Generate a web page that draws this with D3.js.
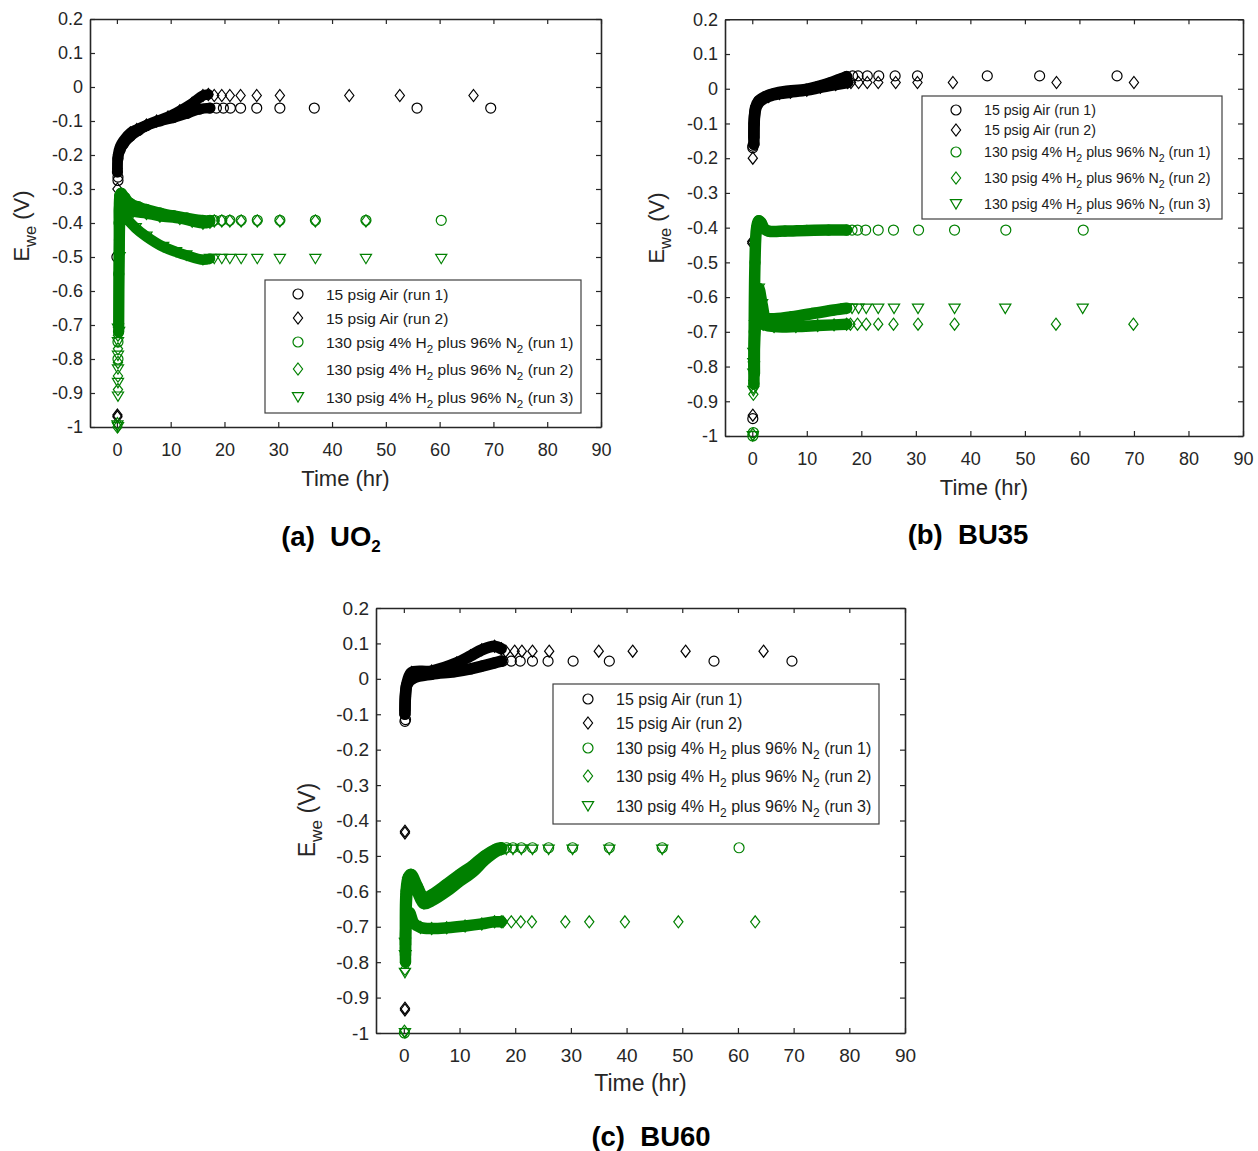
<!DOCTYPE html>
<html>
<head>
<meta charset="utf-8">
<script src="https://cdn.jsdelivr.net/npm/d3@7"></script>
<style>
  body { margin: 0; background: #fff; }
  text { font-family: "Liberation Sans", Arial, sans-serif; }
</style>
</head>
<body>
<svg id="fig" width="1258" height="1151"></svg>
<script>
// axis ticks (same for all three panels)
const xTicks = [0, 10, 20, 30, 40, 50, 60, 70, 80, 90];
const yTicks = [0.2, 0.1, 0, -0.1, -0.2, -0.3, -0.4, -0.5, -0.6, -0.7, -0.8, -0.9, -1];

const legendLabels = [
    "15 psig Air (run 1)",
    "15 psig Air (run 2)",
    "130 psig 4% H2 plus 96% N2 (run 1)",
    "130 psig 4% H2 plus 96% N2 (run 2)",
    "130 psig 4% H2 plus 96% N2 (run 3)"
];

// ---- (a) UO2 : [time hr, Ewe V]
// "Trend" = densely logged part (drawn as a solid band), "Pts" = single visible markers
const uo2Air1Trend = [[0.1,-0.25],[0.2,-0.21],[0.6,-0.185],[1.2,-0.168],[2.5,-0.145],[4,-0.128],[5.5,-0.114],[8,-0.1],[10.5,-0.09],[13,-0.078],[15.4,-0.065],[17.3,-0.062]];
const uo2Air1Pts = [[0,-0.5],[0.2,-0.265],[0.2,-0.275],[18.5,-0.062],[19.8,-0.062],[21.1,-0.062],[23,-0.062],[26,-0.062],[30.3,-0.062],[36.7,-0.062],[55.8,-0.062],[69.5,-0.062]];
const uo2Air2Trend = [[0.1,-0.24],[0.2,-0.2],[0.6,-0.175],[1.2,-0.158],[2.5,-0.135],[3.7,-0.125],[5.5,-0.112],[7.4,-0.1],[9.5,-0.088],[11.7,-0.07],[14,-0.048],[16,-0.025],[17,-0.022]];
const uo2Air2Pts = [[0.1,-0.3],[0.1,-0.965],[0.1,-0.97],[18.1,-0.025],[19.5,-0.025],[21,-0.025],[23,-0.025],[26,-0.025],[30.3,-0.025],[43.2,-0.025],[52.6,-0.025],[66.3,-0.025]];
const uo2H1Trend = [[0.3,-0.72],[0.35,-0.55],[0.4,-0.4],[0.5,-0.32],[0.8,-0.312],[1.5,-0.325],[2.5,-0.342],[4,-0.352],[5.5,-0.36],[8,-0.37],[10.5,-0.378],[13,-0.385],[16,-0.392],[17.3,-0.392]];
const uo2H1Pts = [[0.2,-0.75],[0.2,-0.8],[18.1,-0.392],[19.5,-0.392],[21,-0.392],[23.1,-0.392],[26.1,-0.392],[30.3,-0.392],[36.9,-0.392],[46.3,-0.392],[60.3,-0.392]];
const uo2H2Trend = [[0.3,-0.7],[0.4,-0.45],[0.6,-0.34],[1,-0.345],[1.8,-0.357],[3,-0.366],[5.5,-0.372],[8,-0.38],[11.7,-0.387],[14,-0.395],[16,-0.401],[17.3,-0.398]];
const uo2H2Pts = [[0.2,-0.73],[0.2,-0.77],[0.2,-0.81],[0.2,-0.85],[0.2,-0.89],[0.1,-0.99],[0.1,-1],[18.1,-0.394],[19.5,-0.394],[21,-0.394],[23.1,-0.394],[26.1,-0.394],[30.3,-0.394],[36.9,-0.394],[46.3,-0.394]];
const uo2H3Trend = [[0.4,-0.72],[0.5,-0.5],[0.7,-0.37],[1,-0.35],[1.8,-0.385],[3.5,-0.415],[5.5,-0.44],[8.6,-0.47],[11,-0.485],[12.9,-0.495],[16,-0.508],[17.3,-0.505]];
const uo2H3Pts = [[0.2,-0.71],[0.2,-0.75],[0.2,-0.79],[0.2,-0.83],[0.2,-0.87],[0.2,-0.91],[0.1,-0.995],[0.2,-1],[18.1,-0.505],[19.5,-0.505],[21,-0.505],[23.1,-0.505],[26.1,-0.505],[30.3,-0.505],[36.9,-0.505],[46.3,-0.505],[60.3,-0.505]];

// ---- (b) BU35
const bu35Air1Trend = [[0.3,-0.16],[0.35,-0.1],[0.6,-0.055],[1.2,-0.035],[2.5,-0.022],[4,-0.014],[6,-0.008],[9.8,-0.002],[12,0.006],[14.1,0.016],[16,0.027],[17.3,0.035]];
const bu35Air1Pts = [[0.1,-0.17],[0.1,-0.165],[0.1,-0.95],[18.4,0.037],[19.4,0.037],[21.1,0.037],[23.2,0.037],[26.2,0.037],[30.3,0.037],[43.1,0.037],[52.7,0.037],[66.9,0.037]];
const bu35Air2Trend = [[0.3,-0.14],[0.4,-0.08],[0.8,-0.05],[1.5,-0.035],[3,-0.022],[5,-0.014],[7,-0.01],[10,-0.004],[12.5,0.004],[15.3,0.012],[17.5,0.018]];
const bu35Air2Pts = [[0.1,-0.2],[0,-0.44],[0,-0.445],[0.1,-0.94],[18.1,0.018],[19.5,0.018],[21.1,0.018],[23.1,0.018],[26.3,0.018],[30.3,0.018],[36.8,0.018],[55.8,0.018],[70,0.018]];
const bu35H1Trend = [[0.3,-0.85],[0.35,-0.7],[0.5,-0.5],[0.8,-0.4],[1.2,-0.38],[1.6,-0.385],[2.2,-0.403],[3,-0.41],[6,-0.41],[10,-0.408],[14,-0.407],[17.3,-0.407]];
const bu35H1Pts = [[0.2,-0.99],[0.1,-1],[18.3,-0.407],[19.3,-0.407],[20.8,-0.407],[23.1,-0.407],[25.9,-0.407],[30.5,-0.407],[37.1,-0.407],[46.5,-0.407],[60.7,-0.407]];
const bu35H2Trend = [[0.4,-0.82],[0.5,-0.7],[0.8,-0.67],[1.5,-0.672],[2,-0.678],[4,-0.685],[8,-0.685],[12,-0.682],[15,-0.68],[17.3,-0.678]];
const bu35H2Pts = [[0.2,-0.84],[0.2,-0.86],[0.2,-0.88],[0.1,-0.995],[18,-0.678],[19.3,-0.678],[20.9,-0.678],[23.1,-0.678],[25.9,-0.678],[30.4,-0.678],[37.1,-0.678],[55.7,-0.678],[69.9,-0.678]];
const bu35H3Trend = [[0.3,-0.8],[0.5,-0.68],[0.8,-0.6],[1.2,-0.575],[1.8,-0.62],[2.5,-0.66],[4,-0.662],[8,-0.655],[12,-0.645],[15,-0.637],[17.3,-0.632]];
const bu35H3Pts = [[0.2,-0.76],[0.2,-0.79],[0.2,-0.82],[0.2,-0.87],[0.1,-1],[18.3,-0.633],[19.5,-0.633],[20.9,-0.633],[23.1,-0.633],[26,-0.633],[30.4,-0.633],[37.1,-0.633],[46.4,-0.633],[60.6,-0.633]];

// ---- (c) BU60
const bu60Air1Trend = [[0.2,-0.1],[0.3,-0.05],[0.6,-0.015],[1.7,0.002],[5,0.013],[9,0.02],[12,0.028],[14,0.036],[16.3,0.045],[17.5,0.05]];
const bu60Air1Pts = [[0.2,-0.12],[0.3,-0.115],[17.8,0.05],[19.3,0.05],[20.9,0.05],[23.1,0.05],[25.9,0.05],[30.4,0.05],[36.9,0.05],[55.7,0.05],[69.7,0.05]];
const bu60Air2Trend = [[0.2,-0.09],[0.3,-0.04],[0.7,-0.005],[1.4,0.018],[5,0.022],[9.5,0.045],[12,0.065],[14,0.082],[16.3,0.092],[17.5,0.085]];
const bu60Air2Pts = [[0.2,-0.43],[0.2,-0.435],[0.2,-0.93],[0.2,-0.935],[18.3,0.078],[19.9,0.078],[21.2,0.078],[23.1,0.078],[26.1,0.078],[35,0.078],[41.1,0.078],[50.6,0.078],[64.6,0.078]];
const bu60H1Trend = [[0.3,-0.75],[0.4,-0.6],[0.8,-0.56],[1.3,-0.552],[2.4,-0.585],[3.6,-0.618],[5,-0.61],[7.7,-0.58],[10,-0.553],[12.4,-0.527],[14.5,-0.5],[16.5,-0.481],[17.5,-0.477]];
const bu60H1Pts = [[0.1,-1],[18.4,-0.477],[19.6,-0.477],[21.1,-0.477],[23.1,-0.477],[26,-0.477],[30.3,-0.477],[36.9,-0.477],[46.4,-0.477],[60.2,-0.477]];
const bu60H2Trend = [[0.3,-0.8],[0.5,-0.68],[1,-0.66],[1.8,-0.69],[3,-0.702],[5,-0.705],[7.7,-0.703],[11,-0.698],[14,-0.692],[16.3,-0.686],[17.5,-0.686]];
const bu60H2Pts = [[0.2,-0.82],[0.2,-0.8],[0.2,-0.76],[0.2,-0.73],[0.1,-0.995],[17.8,-0.686],[19.3,-0.686],[21,-0.686],[23,-0.686],[29,-0.686],[33.3,-0.686],[39.7,-0.686],[49.3,-0.686],[63.1,-0.686]];
const bu60H3Trend = [[0.3,-0.78],[0.5,-0.62],[0.8,-0.575],[1.3,-0.565],[2.4,-0.6],[3.6,-0.635],[5,-0.627],[7.7,-0.6],[10,-0.572],[12.4,-0.545],[14.5,-0.512],[16.5,-0.488],[17.5,-0.482]];
const bu60H3Pts = [[0.2,-0.83],[0.2,-0.78],[0.2,-0.745],[0.2,-1],[18.4,-0.482],[19.6,-0.482],[21.1,-0.482],[23.1,-0.482],[26,-0.482],[30.3,-0.482],[36.9,-0.482],[46.4,-0.482]];

const black = "#000000", green = "#008000", axisColor = "#262626";
const shapes = ["circle", "diamond", "circle", "diamond", "triangle"];
const colors = [black, black, green, green, green];

const panels = [
    { x0: 90, x1: 601, y0: 19, y1: 427, tickFs: 18, labFs: 22, ylabX: 29, ylabY: 226, xlabY: 486, band: 10.5,
      title: ["(a)", "UO", "2"], titleX: 331, titleY: 546,
      leg: { x: 265, y: 280, w: 316, h: 133, rows: [14, 38, 62, 89, 117], mx: 33, tx: 61, fs: 15.5 },
      series: [[uo2Air1Trend, uo2Air1Pts], [uo2Air2Trend, uo2Air2Pts], [uo2H1Trend, uo2H1Pts], [uo2H2Trend, uo2H2Pts], [uo2H3Trend, uo2H3Pts]] },
    { x0: 725, x1: 1243, y0: 19.3, y1: 436, tickFs: 18, labFs: 22, ylabX: 664, ylabY: 228, xlabY: 495, band: 11.5,
      title: ["(b)", "BU35", ""], titleX: 968, titleY: 544,
      leg: { x: 922, y: 96, w: 300, h: 123, rows: [14, 34, 56, 82, 108], mx: 34, tx: 62, fs: 14.2 },
      series: [[bu35Air1Trend, bu35Air1Pts], [bu35Air2Trend, bu35Air2Pts], [bu35H1Trend, bu35H1Pts], [bu35H2Trend, bu35H2Pts], [bu35H3Trend, bu35H3Pts]] },
    { x0: 376, x1: 905, y0: 608, y1: 1033, tickFs: 19, labFs: 23, ylabX: 315, ylabY: 820, xlabY: 1091, band: 11.5,
      title: ["(c)", "BU60", ""], titleX: 651, titleY: 1146,
      leg: { x: 553, y: 684, w: 326, h: 140, rows: [15, 39, 64, 92, 122], mx: 35, tx: 63, fs: 16 },
      series: [[bu60Air1Trend, bu60Air1Pts], [bu60Air2Trend, bu60Air2Pts], [bu60H1Trend, bu60H1Pts], [bu60H2Trend, bu60H2Pts], [bu60H3Trend, bu60H3Pts]] }
];

function markerPath(shape, s) {
    if (shape == "diamond") return `M0,${-6*s}L${4.6*s},0L0,${6*s}L${-4.6*s},0Z`;
    if (shape == "triangle") return `M${-5.6*s},${-4.4*s}L${5.6*s},${-4.4*s}L0,${5*s}Z`;
    return d3.symbol(d3.symbolCircle, Math.PI * 25 * s * s)();
}

// writes "H2"/"N2" style labels with real subscripts (offsets in px so the baseline comes back)
function addLabel(textSel, str, fs) {
    const parts = str.split(/(?<=[HN])2/);
    const shift = Math.round(fs * 0.32);
    parts.forEach((p, i) => {
        textSel.append("tspan").attr("dy", i == 0 ? 0 : -shift).text(p);
        if (i < parts.length - 1) {
            textSel.append("tspan").attr("dy", shift).attr("font-size", fs * 0.75).text("2");
        }
    });
}

const svg = d3.select("#fig");
const fmt = d => String(+d.toFixed(1));

panels.forEach(p => {
    const x = d3.scaleLinear().domain([-5, 90]).range([p.x0, p.x1]);
    const y = d3.scaleLinear().domain([-1, 0.2]).range([p.y1, p.y0]);
    const g = svg.append("g");

    // axes with inward ticks on all four sides
    const axes = [
        [d3.axisBottom(x).tickValues(xTicks).tickFormat(d3.format("d")).tickPadding(16), p.y1, "x"],
        [d3.axisTop(x).tickValues(xTicks).tickFormat(""), p.y0, "x"],
        [d3.axisLeft(y).tickValues(yTicks).tickFormat(fmt).tickPadding(7), p.x0, "y"],
        [d3.axisRight(y).tickValues(yTicks).tickFormat(""), p.x1, "y"]
    ];
    axes.forEach(([ax, pos, dir]) => {
        const a = g.append("g")
            .attr("transform", dir == "x" ? `translate(0,${pos})` : `translate(${pos},0)`)
            .call(ax.tickSizeInner(-5).tickSizeOuter(0));
        a.select(".domain").attr("stroke", axisColor).attr("stroke-width", 1.6);
        a.selectAll(".tick line").attr("stroke", axisColor).attr("stroke-width", 1.2);
        a.selectAll(".tick text").attr("fill", axisColor).attr("font-size", p.tickFs)
            .attr("font-family", '"Liberation Sans", Arial, sans-serif');
    });

    // data
    const line = d3.line().x(d => x(d[0])).y(d => y(d[1])).curve(d3.curveCatmullRom.alpha(0.5));
    p.series.forEach(([trend, pts], i) => {
        g.append("path")
            .attr("d", line(trend))
            .attr("fill", "none")
            .attr("stroke", colors[i])
            .attr("stroke-width", p.band)
            .attr("stroke-linecap", "round")
            .attr("stroke-linejoin", "round");
        g.selectAll(null)
            .data(trend.concat(pts))
            .enter()
            .append("path")
            .attr("d", markerPath(shapes[i], 1))
            .attr("transform", d => `translate(${x(d[0])},${y(d[1])})`)
            .attr("fill", "none")
            .attr("stroke", colors[i])
            .attr("stroke-width", 1.2);
    });

    // axis labels
    g.append("text")
        .attr("x", (p.x0 + p.x1) / 2)
        .attr("y", p.xlabY)
        .attr("text-anchor", "middle")
        .attr("font-size", p.labFs)
        .attr("fill", axisColor)
        .text("Time (hr)");

    const yl = g.append("text")
        .attr("transform", `translate(${p.ylabX},${p.ylabY}) rotate(-90)`)
        .attr("text-anchor", "middle")
        .attr("font-size", p.labFs)
        .attr("fill", axisColor);
    const sub = Math.round(p.labFs * 0.3);
    yl.append("tspan").text("E");
    yl.append("tspan").attr("dy", sub).attr("font-size", p.labFs * 0.75).text("we");
    yl.append("tspan").attr("dy", -sub).text(" (V)");

    // legend
    const lg = g.append("g").attr("transform", `translate(${p.leg.x},${p.leg.y})`);
    lg.append("rect")
        .attr("width", p.leg.w).attr("height", p.leg.h)
        .attr("fill", "#fff").attr("stroke", "#404040").attr("stroke-width", 1.2);
    legendLabels.forEach((lab, i) => {
        const cy = p.leg.rows[i];
        lg.append("path")
            .attr("d", markerPath(shapes[i], 1))
            .attr("transform", `translate(${p.leg.mx},${cy})`)
            .attr("fill", "none").attr("stroke", colors[i]).attr("stroke-width", 1.2);
        const t = lg.append("text")
            .attr("x", p.leg.tx)
            .attr("y", cy + p.leg.fs * 0.36)
            .attr("font-size", p.leg.fs)
            .attr("fill", "#1a1a1a");
        addLabel(t, lab, p.leg.fs);
    });

    // panel caption
    const tt = svg.append("text")
        .attr("x", p.titleX).attr("y", p.titleY)
        .attr("text-anchor", "middle")
        .attr("font-size", 27.5)
        .attr("font-weight", "bold")
        .attr("fill", "#000")
        .attr("xml:space", "preserve")
        .style("white-space", "pre");
    tt.append("tspan").text(p.title[0] + "  " + p.title[1]);
    if (p.title[2]) {
        tt.append("tspan").attr("dy", 6).attr("font-size", 17).text(p.title[2]);
    }
});
</script>
</body>
</html>
